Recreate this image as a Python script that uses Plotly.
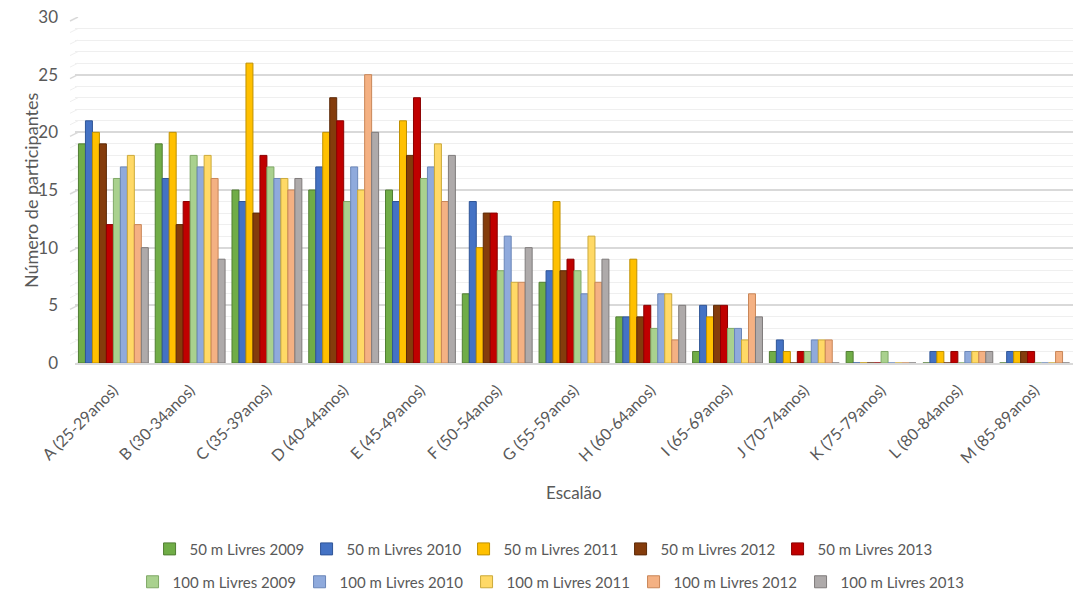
import plotly.graph_objects as go

categories = [
    "A (25-29anos)", "B (30-34anos)", "C (35-39anos)", "D (40-44anos)",
    "E (45-49anos)", "F (50-54anos)", "G (55-59anos)", "H (60-64anos)",
    "I (65-69anos)", "J (70-74anos)", "K (75-79anos)", "L (80-84anos)",
    "M (85-89anos)",
]

livres50_2009 = [19, 19, 15, 15, 15, 6, 7, 4, 1, 1, 1, 0, 0]
livres50_2010 = [21, 16, 14, 17, 14, 14, 8, 4, 5, 2, 0, 1, 1]
livres50_2011 = [20, 20, 26, 20, 21, 10, 14, 9, 4, 1, 0, 1, 1]
livres50_2012 = [19, 12, 13, 23, 18, 13, 8, 4, 5, 0, 0, 0, 1]
livres50_2013 = [12, 14, 18, 21, 23, 13, 9, 5, 5, 1, 0, 1, 1]
livres100_2009 = [16, 18, 17, 14, 16, 8, 8, 3, 3, 1, 1, 0, 0]
livres100_2010 = [17, 17, 16, 17, 17, 11, 6, 6, 3, 2, 0, 1, 0]
livres100_2011 = [18, 18, 16, 15, 19, 7, 11, 6, 2, 2, 0, 1, 0]
livres100_2012 = [12, 16, 15, 25, 14, 7, 7, 2, 6, 2, 0, 1, 1]
livres100_2013 = [10, 9, 16, 20, 18, 10, 9, 5, 4, 0, 0, 1, 0]

series = [
    ("50 m Livres 2009", livres50_2009, "#70AD47", "#507D32", "legend"),
    ("50 m Livres 2010", livres50_2010, "#4472C4", "#2F5597", "legend"),
    ("50 m Livres 2011", livres50_2011, "#FFC000", "#BF9000", "legend"),
    ("50 m Livres 2012", livres50_2012, "#843C0C", "#5C2A08", "legend"),
    ("50 m Livres 2013", livres50_2013, "#C00000", "#8B0000", "legend"),
    ("100 m Livres 2009", livres100_2009, "#A9D18E", "#7FA866", "legend2"),
    ("100 m Livres 2010", livres100_2010, "#8FAADC", "#6A86B8", "legend2"),
    ("100 m Livres 2011", livres100_2011, "#FFD966", "#CCAA3A", "legend2"),
    ("100 m Livres 2012", livres100_2012, "#F4B183", "#C98658", "legend2"),
    ("100 m Livres 2013", livres100_2013, "#AEAAAA", "#7F7B7B", "legend2"),
]

FONT = "Lato, 'Open Sans', sans-serif"
TEXT_COLOR = "#595959"
Y_MAX = 30

fig = go.Figure()
for name, values, fill, edge, leg in series:
    fig.add_trace(go.Bar(
        name=name, x=categories, y=values,
        marker=dict(color=fill, line=dict(color=edge, width=1)),
        legend=leg,
    ))

# short slanted stubs where each gridline meets the back wall
shapes = []
for v in range(0, Y_MAX + 1):
    major = v % 5 == 0
    shapes.append(dict(
        type="line", layer="below",
        xref="paper", xsizemode="pixel", xanchor=0, x0=-5, x1=3,
        yref="y", ysizemode="pixel", yanchor=v, y0=-4, y1=0,
        line=dict(color="#D9D9D9" if major else "#EFEFEF", width=1.5 if major else 1),
    ))

fig.update_layout(
    width=1076, height=593,
    margin=dict(l=75, r=3, t=17, b=230, autoexpand=False),
    paper_bgcolor="white", plot_bgcolor="white",
    barmode="group", bargap=0.09, bargroupgap=0,
    font=dict(family=FONT, color=TEXT_COLOR, size=15),
    xaxis=dict(
        tickangle=-45, tickfont=dict(size=16, color=TEXT_COLOR),
        showline=True, linecolor="#D9D9D9", linewidth=1.5,
        showgrid=False, ticks="", ticklabelstandoff=10, automargin=False,
    ),
    yaxis=dict(
        range=[0, Y_MAX], dtick=5, tick0=0,
        tickfont=dict(size=17, color=TEXT_COLOR),
        showgrid=True, gridcolor="#D9D9D9", gridwidth=1.5,
        minor=dict(dtick=1, showgrid=True, gridcolor="#EFEFEF", gridwidth=1),
        zeroline=False, ticks="", ticklabelstandoff=16, automargin=False,
    ),
    legend=dict(
        orientation="h", x=0.468, xanchor="center", y=-0.538, yanchor="middle",
        font=dict(size=15, color=TEXT_COLOR), itemwidth=30, tracegroupgap=0,
        entrywidth=112,
    ),
    legend2=dict(
        orientation="h", x=0.476, xanchor="center", y=-0.633, yanchor="middle",
        font=dict(size=15, color=TEXT_COLOR), itemwidth=30, tracegroupgap=0,
        entrywidth=122,
    ),
    shapes=shapes,
    annotations=[
        dict(text="Escalão", xref="paper", yref="paper", x=0.5, y=-0.373,
             yanchor="middle", showarrow=False, font=dict(size=17, color=TEXT_COLOR)),
        dict(text="Número de participantes", xref="paper", yref="paper",
             x=-0.057, y=0.5, textangle=-90, showarrow=False,
             font=dict(size=18, color=TEXT_COLOR)),
    ],
)

fig.write_html("out.html")
